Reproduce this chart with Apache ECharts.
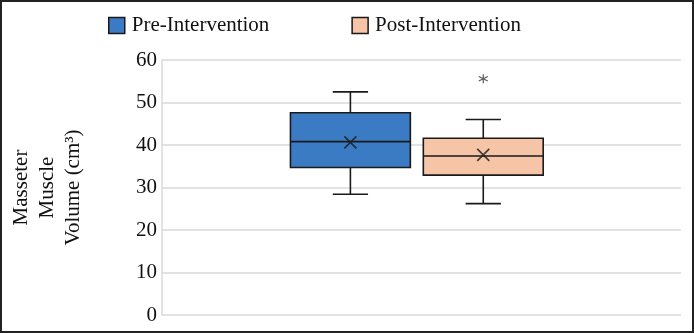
<!DOCTYPE html>
<html>
<head>
<meta charset="utf-8">
<script src="https://cdn.jsdelivr.net/npm/echarts@6/dist/echarts.min.js"></script>
<style>
  html, body { margin: 0; padding: 0; background: #fff; }
  #main { width: 694px; height: 333px; }
</style>
</head>
<body>
<div id="main"></div>
<script>
// groups and their box statistics (cm3)
var groups = ['Pre-Intervention', 'Post-Intervention'];
var groupPos = [0.363, 0.619];
var whiskerLow = [28.4, 26.2];
var q1 = [34.7, 32.9];
var median = [40.8, 37.4];
var q3 = [47.6, 41.6];
var whiskerHigh = [52.5, 46.0];
var means = [40.6, 37.7];
var outlierGroup = [1];
var outlierValue = [55.6];
var yTicks = [0, 10, 20, 30, 40, 50, 60];
var colors = ['#3b7bc4', '#f6c4a6'];

var serif = '"Liberation Serif", "Times New Roman", serif';
var edge = '#1a1a1a';

function renderBox(params, api) {
	var x = api.value(0);
	var lo = api.coord([x, api.value(1)]);
	var b1 = api.coord([x, api.value(2)]);
	var md = api.coord([x, api.value(3)]);
	var b3 = api.coord([x, api.value(4)]);
	var hi = api.coord([x, api.value(5)]);
	var bw = api.size([0.231, 0])[0];
	var cw = api.size([0.068, 0])[0];
	var ln = { stroke: edge, lineWidth: 1.6, fill: null };
	return {
		type: 'group',
		children: [
			{ type: 'line', shape: { x1: lo[0], y1: lo[1], x2: b1[0], y2: b1[1] }, style: ln },
			{ type: 'line', shape: { x1: b3[0], y1: b3[1], x2: hi[0], y2: hi[1] }, style: ln },
			{ type: 'line', shape: { x1: lo[0] - cw / 2, y1: lo[1], x2: lo[0] + cw / 2, y2: lo[1] }, style: ln },
			{ type: 'line', shape: { x1: hi[0] - cw / 2, y1: hi[1], x2: hi[0] + cw / 2, y2: hi[1] }, style: ln },
			{ type: 'rect', shape: { x: b3[0] - bw / 2, y: b3[1], width: bw, height: b1[1] - b3[1] },
				style: { fill: api.visual('color'), stroke: edge, lineWidth: 1.6 } },
			{ type: 'line', shape: { x1: md[0] - bw / 2, y1: md[1], x2: md[0] + bw / 2, y2: md[1] }, style: ln }
		]
	};
}

var series = [];
for (var i = 0; i < groups.length; i++) {
	series.push({
		name: groups[i],
		type: 'custom',
		renderItem: renderBox,
		itemStyle: { color: colors[i] },
		encode: { x: 0, y: [1, 2, 3, 4, 5] },
		data: [[groupPos[i], whiskerLow[i], q1[i], median[i], q3[i], whiskerHigh[i]]],
		z: 2
	});
}

var meanData = [];
for (var i = 0; i < groups.length; i++) meanData.push([groupPos[i], means[i]]);
series.push({
	name: 'mean',
	type: 'scatter',
	symbol: 'path://M0,0L10,10M10,0L0,10',
	symbolSize: 12,
	itemStyle: { color: 'transparent', borderColor: edge, borderWidth: 1.7 },
	data: meanData,
	z: 5
});

var outData = [];
for (var i = 0; i < outlierGroup.length; i++) outData.push([groupPos[outlierGroup[i]], outlierValue[i]]);
series.push({
	name: 'outlier',
	type: 'scatter',
	symbol: 'path://M5,0L5,10M0.67,2.5L9.33,7.5M9.33,2.5L0.67,7.5',
	symbolSize: 9,
	itemStyle: { color: 'transparent', borderColor: '#333', borderWidth: 1.2 },
	data: outData,
	z: 5
});

var myChart = echarts.init(document.getElementById('main'));
var option = {
	animation: false,
	backgroundColor: '#fff',
	graphic: [{
		type: 'rect',
		shape: { x: 1, y: 1, width: 692, height: 331 },
		style: { fill: null, stroke: '#222', lineWidth: 2 },
		silent: true
	}],
	legend: {
		data: groups,
		left: 103,
		top: 10,
		icon: 'rect',
		itemWidth: 16,
		itemHeight: 16,
		itemGap: 82,
		itemStyle: { borderColor: edge, borderWidth: 1.5 },
		textStyle: { fontFamily: serif, fontSize: 21, color: '#111', padding: [0, 0, 0, 2] }
	},
	grid: { left: 157, right: 13, top: 60, bottom: 18 },
	xAxis: {
		type: 'value',
		min: 0,
		max: 1,
		show: false
	},
	yAxis: {
		type: 'value',
		min: yTicks[0],
		max: yTicks[yTicks.length - 1],
		interval: 10,
		name: 'Masseter\nMuscle\nVolume (cm³)',
		nameLocation: 'middle',
		nameRotate: 90,
		nameGap: 76,
		nameTextStyle: { fontFamily: serif, fontSize: 21, color: '#111', lineHeight: 26 },
		axisLine: { show: true, lineStyle: { color: '#d9d9d9', width: 1.5 } },
		axisTick: { show: false },
		axisLabel: { fontFamily: serif, fontSize: 21, color: '#111', margin: 5 },
		splitLine: { lineStyle: { color: '#d9d9d9', width: 1.5 } }
	},
	series: series
};
myChart.setOption(option);
</script>
</body>
</html>
